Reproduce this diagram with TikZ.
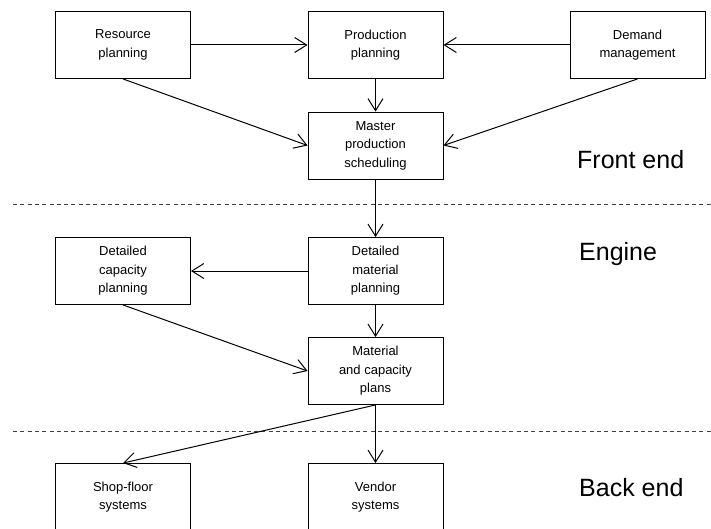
\documentclass[tikz,border=0pt]{standalone}
\usepackage{fontspec}
\setmainfont{Liberation Sans}
\usetikzlibrary{arrows.meta}
\begin{document}
\begin{tikzpicture}[x=1pt,y=-1pt,
  blk/.style={draw=black,line width=0.9pt,minimum width=135pt,minimum height=67pt,
    align=center,inner sep=0pt,font=\fontsize{13}{18.5}\selectfont},
  flow/.style={line width=1pt,-{Straight Barb[length=12pt,width=15pt,line width=1pt]}},
  sep/.style={dashed,dash pattern=on 4pt off 3.3pt,line width=0.8pt,draw=black!75},
  tier/.style={anchor=west,font=\fontsize{25}{28}\selectfont,inner sep=0pt}]
\useasboundingbox (0,0) rectangle (711,529);
\begin{scope}
\clip (0,0) rectangle (711,529);
% front end
\node[blk] (res) at (123,45) {Resource\\planning};
\node[blk] (prod) at (375.5,45) {Production\\planning};
\node[blk] (dem) at (637.5,45) {Demand\\management};
\node[blk] (mps) at (375.5,145.5) {Master\\production\\scheduling};
% engine
\node[blk] (dcp) at (123,271) {Detailed\\capacity\\planning};
\node[blk] (dmp) at (375.5,271) {Detailed\\material\\planning};
\node[blk] (mcp) at (375.5,371) {Material\\and capacity\\plans};
% back end
\node[blk] (shop) at (123,497) {Shop-floor\\systems};
\node[blk] (vend) at (375.5,497) {Vendor\\systems};
% tier separators
\coordinate (s1a) at (13,204);
\coordinate (s1b) at (711,204);
\coordinate (s2a) at (13,431);
\coordinate (s2b) at (711,431);
\draw[sep] (s1a) -- (s1b);
\draw[sep] (s2a) -- (s2b);
% tier labels
\node[tier] (fe) at (577,160) {Front end};
\node[tier] (en) at (579,254) {Engine};
\node[tier] (be) at (579,488) {Back end};
% flows
\draw[flow] (res) -- (prod);
\draw[flow] (dem) -- (prod);
\draw[flow] (prod) -- (mps);
\draw[flow] (res.south) -- (mps.west);
\draw[flow] (dem.south) -- (mps.east);
\draw[flow] (mps) -- (dmp);
\draw[flow] (dmp) -- (dcp);
\draw[flow] (dmp) -- (mcp);
\draw[flow] (dcp.south) -- (mcp.west);
\draw[flow] (mcp.south) -- (shop.north);
\draw[flow] (mcp) -- (vend);
\end{scope}
\end{tikzpicture}
\end{document}
